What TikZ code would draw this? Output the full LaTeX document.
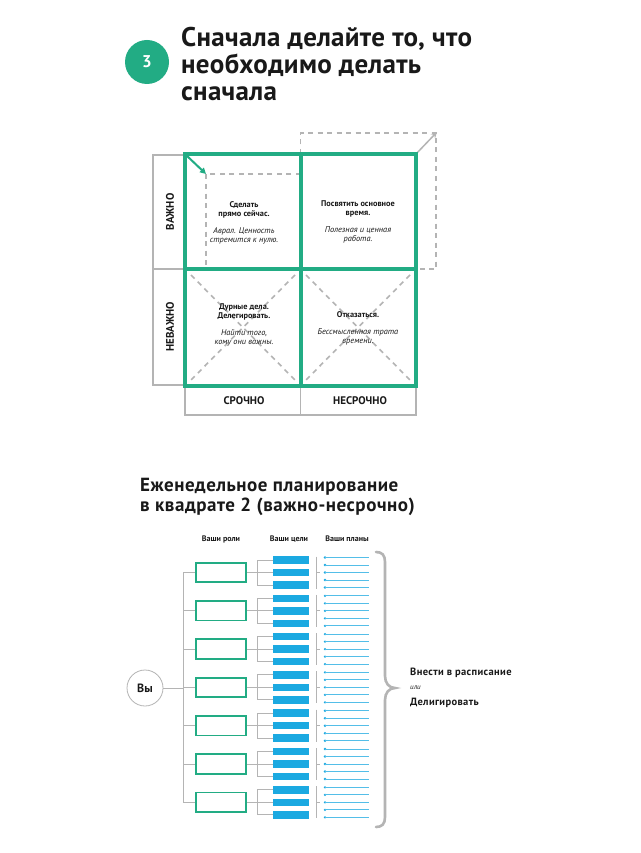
\documentclass[tikz,border=0pt]{standalone}
\usepackage{fontspec}
\setmainfont{PT Sans}
\usetikzlibrary{arrows.meta,calc}
\definecolor{grn}{RGB}{34,172,132}
\definecolor{blu}{RGB}{27,169,225}
\definecolor{gry}{RGB}{180,180,180}
\definecolor{txt}{RGB}{25,25,25}
\tikzset{
  titlefont/.style={font=\bfseries\fontsize{27}{27}\selectfont\addfontfeature{LetterSpace=1.2}, text=txt},
  subtitlefont/.style={font=\bfseries\fontsize{19}{19}\selectfont\addfontfeature{LetterSpace=2.8}, text=txt},
  tline/.style={anchor=base west, inner sep=0pt},
  grid/.style={draw=grn, line width=4pt},
  frame/.style={draw=gry, line width=1.5pt},
  dashgray/.style={draw=gry, line width=1.6pt, dash pattern=on 5pt off 4.5pt},
  celltext/.style={align=center, font=\fontsize{8.3}{9}\selectfont, text=txt, inner sep=0pt},
  axislabel/.style={font=\bfseries\fontsize{11}{11}\selectfont, text=txt, inner sep=0pt},
  colhead/.style={font=\bfseries\fontsize{8}{8}\selectfont, text=txt, inner sep=0pt},
  rolebox/.style={draw=grn, line width=1.8pt, minimum width=50pt, minimum height=19.5pt, inner sep=0pt},
  goalbox/.style={fill=blu, minimum width=36.5pt, minimum height=7.5pt, inner sep=0pt},
  plandot/.style={circle, fill=blu, minimum size=2.6pt, inner sep=0pt},
  planline/.style={draw=blu!75, line width=0.9pt},
  conn/.style={draw=gry, line width=1pt},
  righttext/.style={anchor=west, font=\bfseries\fontsize{10.5}{10.5}\selectfont\addfontfeature{LetterSpace=3.5}, text=txt, inner sep=0pt}
}
\begin{document}
\begin{tikzpicture}[x=1pt,y=-1pt]
\useasboundingbox (0,0) rectangle (640,853);
\fill[white] (0,0) rectangle (640,853);

% ---------- header ----------
\node[circle, fill=grn, minimum size=44pt, inner sep=0pt, text=white,
      font=\bfseries\fontsize{17}{17}\selectfont] (num) at (147,62) {3};
\node[tline, titlefont] (t1) at (181,46.7) {Сначала делайте то, что};
\node[tline, titlefont] (t2) at (181,73.7) {необходимо делать};
\node[tline, titlefont] (t3) at (181,100.7) {сначала};

% ---------- matrix ----------
\coordinate (A) at (185,154);
\coordinate (B) at (416,386);
\coordinate (mx) at (300.5,269);
% gray frames
\draw[frame] (153,155) rectangle (185,385);
\draw[frame] (153,269) -- (185,269);
\draw[frame] (185,386) rectangle (416,415);
\draw[frame] (300.5,386) -- (300.5,415);
% dashed shifted square (top right)
\draw[dashgray] (300.5,154) -- (300.5,133) -- (436,133) -- (436,269) -- (416,269);
\draw[draw=gry, line width=1.5pt, -{Stealth[length=6pt,width=6pt]}] (416,154) -- (437,132);
% dashed inner square (top left)
\draw[dashgray] (300.5,174) -- (206,174) -- (206,269);
% dashed crosses in bottom cells
\draw[dashgray] (191,275) -- (295,380);
\draw[dashgray] (295,275) -- (191,380);
\draw[dashgray] (306,275) -- (410,380);
\draw[dashgray] (410,275) -- (306,380);
% green grid
\draw[grid] (A) rectangle (B);
\draw[grid] (300.5,154) -- (300.5,386);
\draw[grid] (185,269) -- (416,269);
\draw[draw=grn, line width=2pt, -{Triangle[length=6pt,width=6pt]}] (186,155) -- (206,174);

% cell texts
\node[celltext] (c11) at (244,223) {\textbf{Сделать}\\\textbf{прямо сейчас.}\\[8pt]\textit{Аврал. Ценность}\\\textit{стремится к нулю.}};
\node[celltext] (c12) at (358,221.5) {\textbf{Посвятить основное}\\\textbf{время.}\\[8pt]\textit{Полезная и ценная}\\\textit{работа.}};
\node[celltext] (c21) at (244,325) {\textbf{Дурные дела.}\\\textbf{Делегировать.}\\[8pt]\textit{Найти того,}\\\textit{кому они важны.}};
\node[celltext] (c22) at (358,328) {\textbf{Отказаться.}\\[8pt]\textit{Бессмысленная трата}\\\textit{времени.}};

% axis labels
\node[axislabel, rotate=90] (l1) at (170,212) {ВАЖНО};
\node[axislabel, rotate=90] (l2) at (170,327) {НЕВАЖНО};
\node[axislabel] (l3) at (244,401) {СРОЧНО};
\node[axislabel] (l4) at (360,401) {НЕСРОЧНО};

% ---------- weekly planning ----------
\node[tline, subtitlefont] (s1) at (140,491.5) {Еженедельное планирование};
\node[tline, subtitlefont] (s2) at (140,511.5) {в квадрате 2 (важно-несрочно)};

\node[colhead] (h1) at (221,539) {Ваши роли};
\node[colhead] (h2) at (289,539) {Ваши цели};
\node[colhead] (h3) at (347,539) {Ваши планы};

\coordinate (bustop) at (183,572.5);
\coordinate (busbot) at (183,802.3);
\draw[conn] (bustop) -- (busbot);

\foreach \i in {0,...,6} {
  \pgfmathsetmacro\c{572.5+38.3*\i}
  \node[rolebox] (r\i) at (221,\c) {};
  \draw[conn] (r\i.west -| bustop) -- (r\i.west);
  \coordinate (br\i) at (257,\c);
  \draw[conn] (r\i.east) -- (br\i);
  \foreach \j/\d in {1/-12.5,2/0,3/12.5} {
    \pgfmathsetmacro\yy{\c+\d}
    \node[goalbox] (g\i\j) at (291,\yy) {};
    \draw[conn] (g\i\j.west -| br\i) -- (g\i\j.west);
  }
  \draw[conn] (g\i1.west -| br\i) -- (g\i3.west -| br\i);
  \coordinate (sep\i) at (316,\c);
  \pgfmathsetmacro\ya{\c-16}
  \pgfmathsetmacro\yb{\c+16}
  \coordinate (sepa\i) at (316,\ya);
  \coordinate (sepb\i) at (316,\yb);
  \coordinate (sept\i) at (320,\c);
  \draw[conn] (sepa\i) -- (sepb\i);
  \draw[conn] (sep\i) -- (sept\i);
  \foreach \k/\d in {1/-15,2/-7.5,3/0,4/7.5,5/15} {
    \pgfmathsetmacro\yy{\c+\d}
    \node[plandot] (p\i\k) at (325,\yy) {};
    \coordinate (pe\i\k) at (369,\yy);
    \draw[planline] (p\i\k.center) -- (pe\i\k);
  }
}

% you
\node[circle, draw=gry, line width=0.8pt, minimum size=36pt, inner sep=0pt,
      font=\bfseries\fontsize{12}{12}\selectfont, text=txt] (you) at (145,688) {Вы};
\draw[conn] (you.east) -- (you.east -| bustop);

% brace
\coordinate (brtop) at (376,552);
\coordinate (brtip) at (395,688);
\coordinate (brbot) at (376,827);
\draw[draw=gry, line width=2.6pt, line cap=round]
  (brtop) .. controls (382,552) and (385,555) .. (385,562)
  -- (385,676) .. controls (385,683) and (389,688) .. (brtip)
  .. controls (389,688) and (385,693) .. (385,700)
  -- (385,817) .. controls (385,824) and (382,827) .. (brbot);

\node[righttext] (o1) at (410,672.5) {Внести в расписание};
\node[anchor=west, inner sep=0pt, font=\itshape\fontsize{7}{7}\selectfont, text=txt] (o2) at (410,688) {или};
\node[righttext] (o3) at (410,703) {Делигировать};
\end{tikzpicture}
\end{document}
